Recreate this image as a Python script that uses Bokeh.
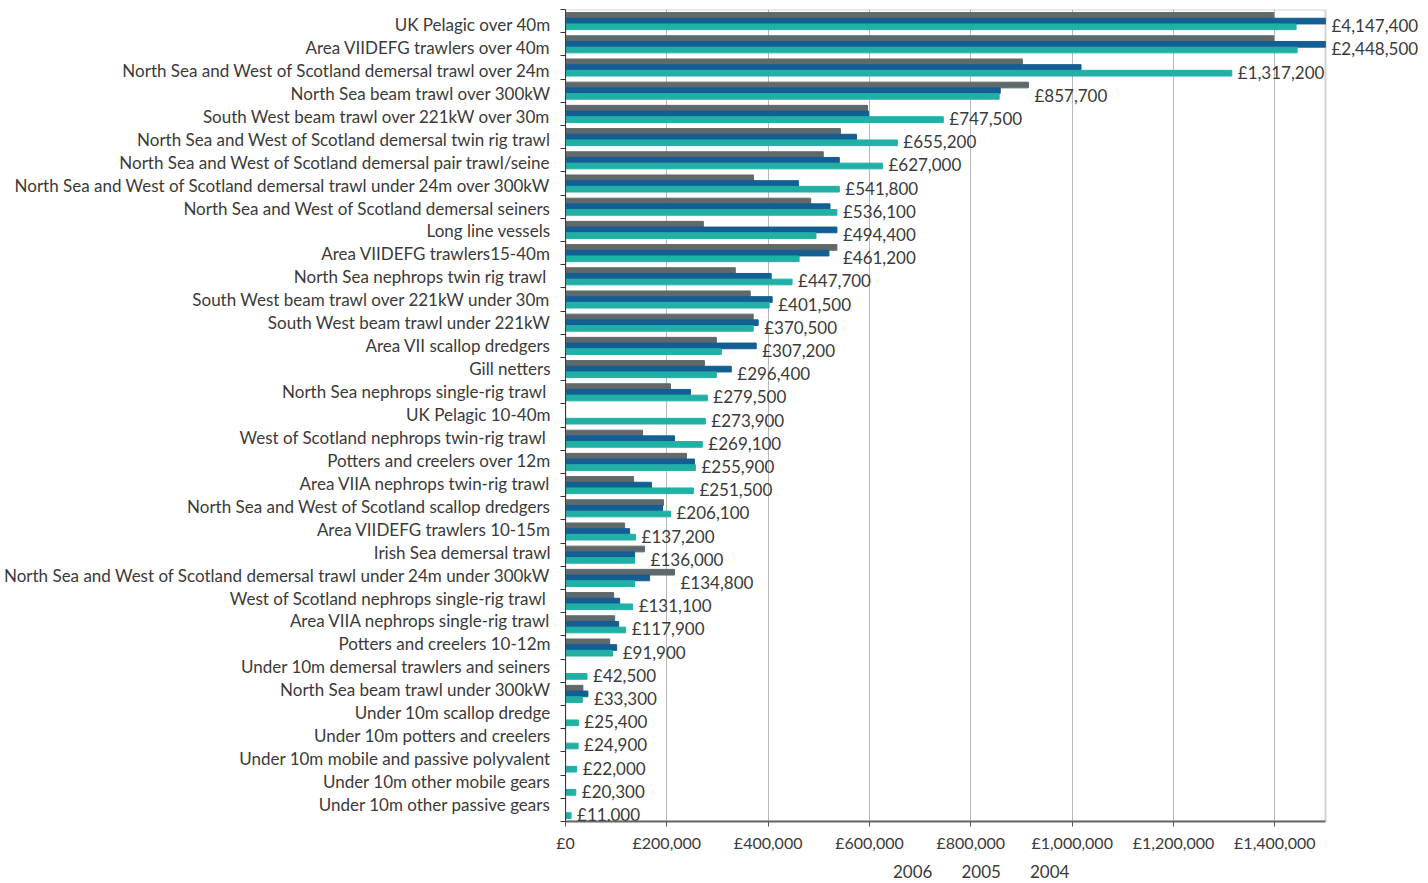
from bokeh.plotting import figure
from bokeh.layouts import column
from bokeh.models import (Range1d, LinearAxis, FixedTicker, ColumnDataSource, LabelSet,
                          Legend, LegendItem, BoxAnnotation)
from bokeh.core.properties import value
from bokeh.transform import dodge
from bokeh.embed import file_html
from bokeh.resources import INLINE

categories = [
    "UK Pelagic over 40m",
    "Area VIIDEFG trawlers over 40m",
    "North Sea and West of Scotland demersal trawl over 24m",
    "North Sea beam trawl over 300kW",
    "South West beam trawl over 221kW over 30m",
    "North Sea and West of Scotland demersal twin rig trawl",
    "North Sea and West of Scotland demersal pair trawl/seine",
    "North Sea and West of Scotland demersal trawl under 24m over 300kW",
    "North Sea and West of Scotland demersal seiners",
    "Long line vessels",
    "Area VIIDEFG trawlers15-40m",
    "North Sea nephrops twin rig trawl ",
    "South West beam trawl over 221kW under 30m",
    "South West beam trawl under 221kW",
    "Area VII scallop dredgers",
    "Gill netters",
    "North Sea nephrops single-rig trawl ",
    "UK Pelagic 10-40m",
    "West of Scotland nephrops twin-rig trawl ",
    "Potters and creelers over 12m",
    "Area VIIA nephrops twin-rig trawl",
    "North Sea and West of Scotland scallop dredgers",
    "Area VIIDEFG trawlers 10-15m",
    "Irish Sea demersal trawl",
    "North Sea and West of Scotland demersal trawl under 24m under 300kW",
    "West of Scotland nephrops single-rig trawl ",
    "Area VIIA nephrops single-rig trawl",
    "Potters and creelers 10-12m",
    "Under 10m demersal trawlers and seiners",
    "North Sea beam trawl under 300kW",
    "Under 10m scallop dredge",
    "Under 10m potters and creelers",
    "Under 10m mobile and passive polyvalent",
    "Under 10m other mobile gears",
    "Under 10m other passive gears",
]

v2006 = [1442000, 1444000, 1315000, 855900, 745600, 655000, 625500, 540400, 535700, 494400,
         461000, 447200, 402000, 370500, 307500, 297700, 280000, 276000, 270100, 256400,
         252400, 207200, 138400, 136400, 136400, 132500, 118700, 93100, 42500, 33300,
         25400, 24900, 22000, 20300, 11000]
v2005 = [1500000, 1500000, 1017500, 858000, 598000, 574200, 540400, 459600, 522000, 535700,
         520000, 405900, 407900, 380300, 376400, 327200, 246500, 0, 215100, 254400,
         169800, 191500, 126600, 136400, 165900, 106900, 104900, 101000, 0, 44200,
         0, 0, 0, 0, 0]
v2004 = [1398000, 1398000, 901700, 913700, 596000, 542600, 508700, 371200, 483900, 272100,
         535700, 335100, 364600, 370500, 297700, 274100, 207200, 0, 152100, 238700,
         134400, 193400, 116700, 156100, 215100, 95100, 97000, 87200, 0, 34300,
         0, 0, 0, 0, 0]

value_labels = ["£4,147,400", "£2,448,500", "£1,317,200", "£857,700", "£747,500", "£655,200",
                "£627,000", "£541,800", "£536,100", "£494,400", "£461,200", "£447,700",
                "£401,500", "£370,500", "£307,200", "£296,400", "£279,500", "£273,900",
                "£269,100", "£255,900", "£251,500", "£206,100", "£137,200", "£136,000",
                "£134,800", "£131,100", "£117,900", "£91,900", "£42,500", "£33,300",
                "£25,400", "£24,900", "£22,000", "£20,300", "£11,000"]

xtick_values = [0, 200000, 400000, 600000, 800000, 1000000, 1200000, 1400000]
xtick_labels = ["£0", "£200,000", "£400,000", "£600,000", "£800,000",
                "£1,000,000", "£1,200,000", "£1,400,000"]
x_axis_max = 1500000

years = ["2006", "2005", "2004"]
colors = {"2006": "#20b0a5", "2005": "#135e92", "2004": "#5f696b"}

FONT = "Lato"
TXT = "#3a3a3a"
FRAME_W, PLOT_W, FRAME_H = 855, 760, 812

N = len(categories)
pos = [N - 0.5 - i for i in range(N)]  # row centres, first category at top

src = ColumnDataSource(dict(
    pos=pos, v2006=v2006, v2005=v2005, v2004=v2004, lab=value_labels,
    lab_x=[max(a, b, c) for a, b, c in zip(v2006, v2005, v2004)],
))

p = figure(y_range=Range1d(0, N), x_range=Range1d(0, x_axis_max * FRAME_W / PLOT_W),
           frame_width=FRAME_W, frame_height=FRAME_H, output_backend="svg",
           toolbar_location=None, y_axis_location=None, min_border_top=9,
           min_border_left=0, min_border_right=0, min_border_bottom=0,
           background_fill_color="white", outline_line_color=None)

# label axis runs on a slightly stretched range, as the category names in the
# original drift a little below their bars towards the bottom
u = (N - 1) / (FRAME_H - 17 - 15)
p.extra_y_ranges = {"lab": Range1d(N - 0.5 + 15 * u - FRAME_H * u, N - 0.5 + 15 * u)}

ax_t = LinearAxis(ticker=FixedTicker(ticks=list(range(N + 1))),
                  major_label_overrides={i: "" for i in range(N + 1)},
                  major_label_text_font_size="1px", major_label_standoff=0,
                  major_tick_in=0, major_tick_out=5, major_tick_line_color="#333",
                  minor_tick_line_color=None, axis_line_color="#333")
p.add_layout(ax_t, "left")
ax_c = LinearAxis(y_range_name="lab", ticker=FixedTicker(ticks=pos),
                  major_label_overrides={v: c for v, c in zip(pos, categories)},
                  major_tick_line_color=None, minor_tick_line_color=None,
                  axis_line_color=None, major_label_text_font=FONT,
                  major_label_text_font_size="17px", major_label_text_color=TXT,
                  major_label_standoff=4)
p.add_layout(ax_c, "left")

offsets = {"2004": 0.245, "2005": 0.0, "2006": -0.245}
for y in ["2004", "2005", "2006"]:
    p.hbar(y=dodge("pos", offsets[y]), right="v" + y, left=0,
           height=0.245, color=colors[y], source=src)

labels = LabelSet(x="lab_x", y=dodge("pos", -0.2), text="lab",
                  x_offset=6, text_baseline="middle", text_font=value(FONT),
                  text_font_size="17px", text_color=TXT, source=src)
p.add_layout(labels)

# plot-area border (top and right edges)
p.add_layout(BoxAnnotation(left=0, right=x_axis_max, bottom=0, top=N,
                           fill_alpha=0, line_color="#6a6a6a", line_width=2))

p.xaxis.ticker = FixedTicker(ticks=xtick_values)
p.xaxis.bounds = (0, x_axis_max)
p.xaxis.major_label_overrides = {v: s for v, s in zip(xtick_values, xtick_labels)}
p.xaxis.major_label_text_font = FONT
p.xaxis.major_label_text_font_size = "16px"
p.xaxis.major_label_text_color = TXT
p.xaxis.major_label_standoff = 6
p.xaxis.major_tick_in = 0
p.xaxis.major_tick_out = 5
p.xaxis.minor_tick_line_color = None
p.xaxis.axis_line_color = "#666"
p.xaxis.axis_line_width = 2
p.xaxis.major_tick_line_color = "#555"
p.xgrid.ticker = FixedTicker(ticks=xtick_values)
p.xgrid.grid_line_color = "#b8b8b8"
p.ygrid.visible = False

# legend strip under the chart (its frame lines up with the chart frame)
leg = figure(width=1410, height=30, x_range=Range1d(0, 1), y_range=Range1d(0, 1),
             output_backend="svg", toolbar_location=None, x_axis_location=None,
             y_axis_location=None, min_border=0, outline_line_color=None)
leg.grid.visible = False
leg_src = ColumnDataSource(dict(y=[], right=[]))
leg_rends = {yr: leg.hbar(y="y", right="right", height=0.5, color=colors[yr], source=leg_src)
             for yr in years}
legend = Legend(items=[LegendItem(label=yr, renderers=[leg_rends[yr]]) for yr in years],
                orientation="horizontal", location=(313, 2), border_line_color=None,
                background_fill_alpha=0,
                label_text_font=FONT, label_text_font_size="17px", label_text_color=TXT,
                glyph_width=12, glyph_height=12, spacing=14, padding=0, margin=0,
                label_standoff=3, label_height=16)
leg.add_layout(legend, "center")

open("out.html", "w").write(file_html(column(p, leg), INLINE))
